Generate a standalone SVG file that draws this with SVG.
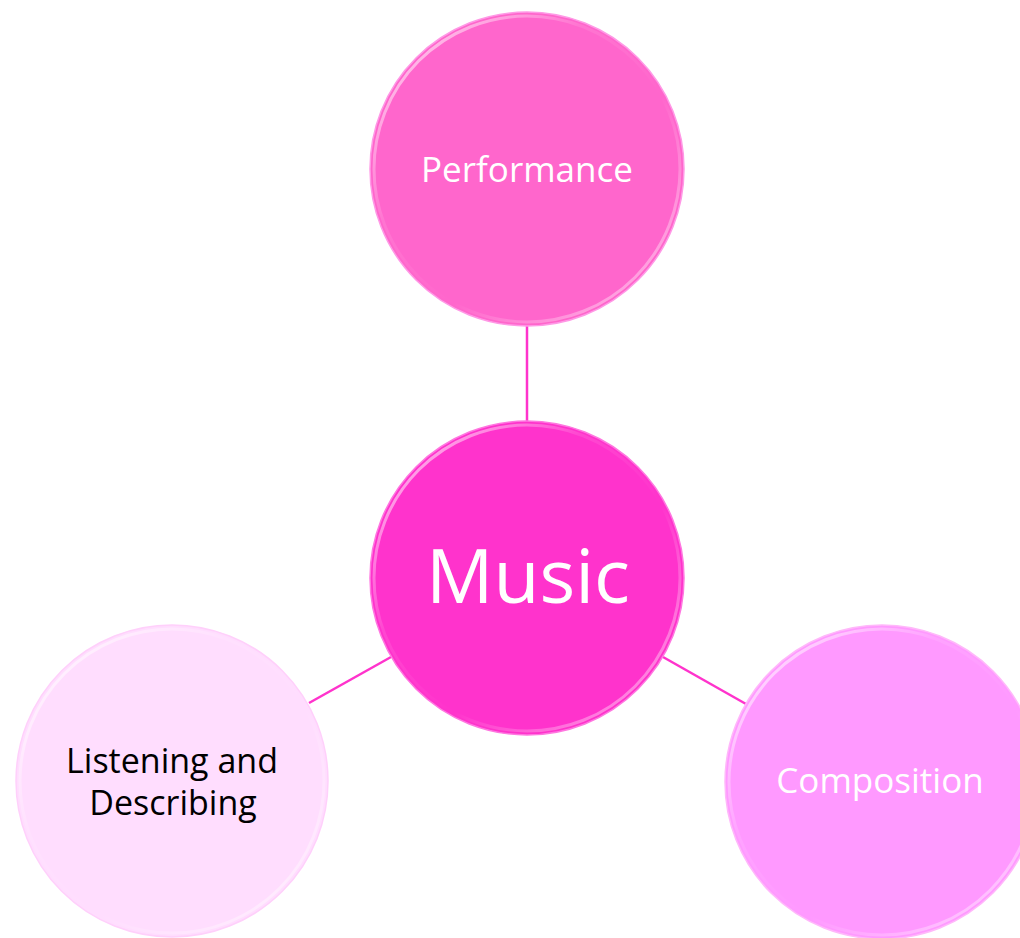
<svg xmlns="http://www.w3.org/2000/svg" width="1020" height="938" viewBox="0 0 1020 938">
<style>
.conn{stroke:#FF33CC;stroke-width:2.5;fill:none}
.lbl{font-family:"Open Sans","Noto Sans","Liberation Sans",sans-serif;text-anchor:middle}
.w{fill:#FFFFFF}
.k{fill:#000000}
.rim{fill:none;stroke:url(#rimg);stroke-width:3}
</style>
<defs>
<linearGradient id="rimg" x1="0" y1="0" x2="1" y2="1">
<stop offset="0" stop-color="#FFFFFF" stop-opacity="0.8"/>
<stop offset="0.35" stop-color="#FFFFFF" stop-opacity="0.1"/>
<stop offset="0.6" stop-color="#FFFFFF" stop-opacity="0"/>
<stop offset="1" stop-color="#FFFFFF" stop-opacity="0.6"/>
</linearGradient>
</defs>
<rect width="1020" height="938" fill="#FFFFFF"/>
<g id="connectors">
<line class="conn" x1="527" y1="326" x2="527" y2="422"/>
<line class="conn" x1="391" y1="657" x2="309" y2="703"/>
<line class="conn" x1="663" y1="657" x2="746" y2="704"/>
</g>
<g id="node-performance">
<circle cx="527" cy="169" r="157" fill="#FF66CC" stroke="#FF99E6" stroke-width="1.5"/>
<circle class="rim" cx="527" cy="169" r="153"/>
<text class="lbl w" x="527" y="182" font-size="35">Performance</text>
</g>
<g id="node-music">
<circle cx="527" cy="578" r="157" fill="#FF33CC" stroke="#FF77E0" stroke-width="1.5"/>
<circle class="rim" cx="527" cy="578" r="153"/>
<text class="lbl w" x="528" y="603" font-size="75">Music</text>
</g>
<g id="node-listening">
<circle cx="172" cy="781" r="156" fill="#FFDDFE" stroke="#FFD0FB" stroke-width="1.5"/>
<circle class="rim" cx="172" cy="781" r="152"/>
<text class="lbl k" x="172" y="773" font-size="34">Listening and</text>
<text class="lbl k" x="173" y="815" font-size="34">Describing</text>
</g>
<g id="node-composition">
<circle cx="882" cy="782" r="157" fill="#FF99FF" stroke="#FFB8FA" stroke-width="1.5"/>
<circle class="rim" cx="882" cy="782" r="153"/>
<text class="lbl w" x="880" y="793" font-size="35">Composition</text>
</g>
</svg>
